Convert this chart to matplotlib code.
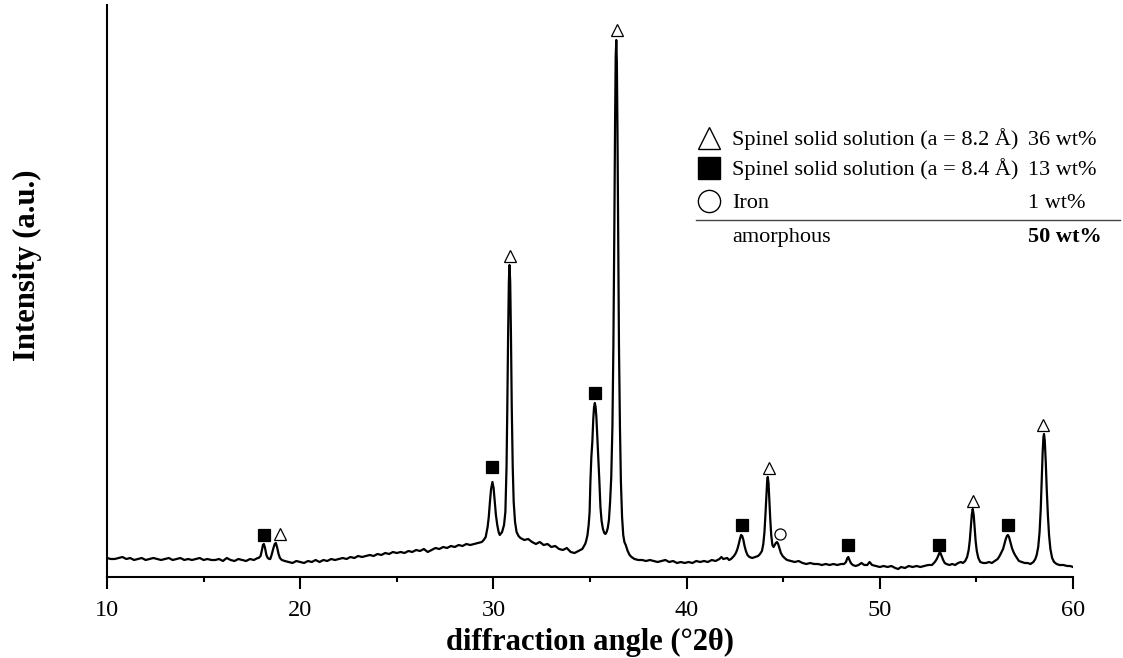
import matplotlib
matplotlib.use("Agg")
import matplotlib.pyplot as plt

# XRD pattern (deg 2theta, intensity in a.u.)
two_theta = [
    10.0, 10.2, 10.4, 10.6, 10.8, 11.0, 11.2, 11.4, 11.6, 11.8,
    12.0, 12.2, 12.4, 12.6, 12.8, 13.0, 13.2, 13.4, 13.6, 13.8,
    14.0, 14.2, 14.4, 14.6, 14.8, 15.0, 15.2, 15.4, 15.6, 15.8,
    16.0, 16.2, 16.4, 16.6, 16.8, 17.0, 17.2, 17.4, 17.6, 17.8,
    17.85, 17.95, 18.02, 18.07, 18.12, 18.18, 18.25, 18.32, 18.4, 18.45,
    18.52, 18.6, 18.68, 18.74, 18.8, 18.88, 18.95, 19.05,
    19.2, 19.4, 19.6, 19.8, 20.0, 20.2, 20.4, 20.6, 20.8, 21.0,
    21.2, 21.4, 21.6, 21.8, 22.0, 22.2, 22.4, 22.6, 22.8, 23.0,
    23.2, 23.4, 23.6, 23.8, 24.0, 24.2, 24.4, 24.6, 24.8, 25.0,
    25.2, 25.4, 25.6, 25.8, 26.0, 26.2, 26.4, 26.6, 26.8, 27.0,
    27.2, 27.4, 27.6, 27.8, 28.0, 28.2, 28.4, 28.6, 28.8, 29.0,
    29.2, 29.4, 29.5, 29.6,
    29.7, 29.76, 29.82, 29.88, 29.95, 30.01, 30.07, 30.13, 30.2, 30.27,
    30.33, 30.45, 30.55, 30.62,
    30.68, 30.72, 30.76, 30.8, 30.83, 30.87, 30.91, 30.95, 31.0, 31.05,
    31.12, 31.2, 31.3, 31.4,
    31.6, 31.8, 32.0, 32.2, 32.4, 32.6, 32.8, 33.0, 33.2, 33.4,
    33.6, 33.8, 34.0, 34.2, 34.4, 34.6, 34.75,
    34.8, 34.87, 34.93, 34.98, 35.02, 35.07, 35.12, 35.17, 35.21, 35.25,
    35.29, 35.33, 35.38, 35.43, 35.48, 35.54, 35.6, 35.67, 35.74, 35.8,
    35.86, 35.92, 35.98,
    36.04, 36.1, 36.16, 36.21, 36.26, 36.3, 36.33, 36.36, 36.39, 36.42,
    36.46, 36.5, 36.55, 36.6, 36.66, 36.72, 36.78, 36.85, 36.95, 37.05,
    37.15, 37.3,
    37.5, 37.7, 37.9, 38.1, 38.3, 38.5, 38.7, 38.9, 39.1, 39.3,
    39.5, 39.7, 39.9, 40.1, 40.3, 40.5, 40.7, 40.9, 41.1, 41.3,
    41.5, 41.7, 41.8, 41.9, 42.1, 42.2, 42.3, 42.45,
    42.55, 42.63, 42.7, 42.76, 42.82, 42.88, 42.94, 43.0, 43.07, 43.15,
    43.25, 43.4, 43.55, 43.7, 43.8,
    43.9, 43.97, 44.03, 44.08, 44.13, 44.17, 44.2, 44.24, 44.28, 44.33,
    44.38, 44.44, 44.5, 44.56, 44.62, 44.68, 44.74, 44.8, 44.88, 44.97,
    45.07, 45.2,
    45.4, 45.6, 45.8, 46.0, 46.2, 46.4, 46.6, 46.8, 47.0, 47.2,
    47.4, 47.6, 47.8, 48.0, 48.15,
    48.25, 48.32, 48.37, 48.43, 48.5, 48.6, 48.75, 48.9, 49.05, 49.2,
    49.35, 49.47, 49.6, 49.8, 50.0, 50.2, 50.4, 50.6, 50.8, 50.95,
    51.1, 51.3, 51.5, 51.7, 51.9, 52.1, 52.3, 52.5, 52.7, 52.85,
    52.95, 53.02, 53.08, 53.14, 53.2, 53.28, 53.36, 53.45, 53.6, 53.75,
    53.9, 54.05, 54.2, 54.3, 54.42,
    54.52, 54.6, 54.66, 54.71, 54.76, 54.81, 54.86, 54.91, 54.96, 55.02,
    55.1, 55.2, 55.35, 55.5, 55.65, 55.8, 55.95, 56.1,
    56.2, 56.3, 56.38, 56.45, 56.52, 56.58, 56.63, 56.69, 56.76, 56.84,
    56.92, 57.0, 57.1, 57.2, 57.35, 57.5, 57.65, 57.8, 57.95, 58.05,
    58.12, 58.2, 58.27, 58.33, 58.38, 58.43, 58.47, 58.5, 58.54, 58.59,
    58.64, 58.7, 58.76, 58.83, 58.92, 59.02, 59.15, 59.3, 59.5, 59.7,
    59.85, 60.0,
]
intensity = [
    19, 18, 18, 19, 20, 18, 19, 17, 18, 19,
    17, 18, 19, 18, 17, 18, 19, 17, 18, 19,
    17, 18, 17, 18, 19, 17, 18, 17, 17, 18,
    16, 19, 17, 16, 18, 17, 16, 18, 17, 19,
    19, 21, 27, 32, 33, 29, 22, 19, 18, 18,
    22, 28, 33, 34, 30, 23, 19, 17,
    16, 15, 14, 16, 15, 14, 16, 15, 17, 15,
    17, 16, 18, 17, 18, 19, 18, 20, 19, 21,
    20, 21, 22, 21, 23, 22, 24, 23, 25, 24,
    25, 24, 26, 25, 27, 26, 28, 25, 27, 29,
    28, 30, 29, 31, 30, 32, 31, 33, 32, 33,
    34, 35, 37, 40,
    50, 60, 75, 88, 95, 89, 76, 62, 52, 45,
    42, 45, 52, 65,
    110, 170, 240, 295, 312, 295, 240, 170, 110, 75,
    55, 45, 41, 39,
    37, 38, 35, 33, 35, 32, 33, 30, 31, 28,
    27, 29, 25, 24, 26, 28, 33,
    36, 42, 52, 65, 95, 120, 135, 158, 170, 174,
    170, 160, 140, 120, 98, 70, 56, 48, 44, 43,
    45, 49, 57,
    75, 100, 150, 230, 350, 460, 520, 537, 515, 450,
    340, 230, 150, 95, 60, 42, 35, 32, 26, 22,
    20, 18,
    17, 17, 16, 17, 16, 15, 16, 17, 15, 16,
    14, 15, 14, 15, 14, 16, 15, 16, 15, 17,
    16, 18, 20, 18, 19, 17, 18, 21,
    24, 28, 33, 38, 42, 41, 37, 31, 26, 22,
    20, 19, 20, 21, 23,
    26, 33, 45, 62, 82, 96, 100, 94, 78, 58,
    42, 32, 30, 32, 34, 35, 33, 29, 24, 21,
    19, 17,
    16, 15, 16, 14, 13, 14, 13, 13, 12, 13,
    12, 13, 12, 13, 13,
    15, 19, 20, 17, 14, 12, 11, 12, 14, 12,
    12, 15, 12, 11, 10, 11, 10, 11, 9, 8,
    10, 9, 11, 10, 11, 10, 11, 12, 12, 15,
    18, 21, 24, 24, 21, 17, 14, 13, 12, 13,
    12, 14, 15, 14, 16,
    20, 27, 37, 50, 62, 68, 62, 49, 36, 26,
    19, 15, 14, 14, 15, 14, 16, 18,
    21, 25, 28, 33, 38, 41, 42, 40, 35, 29,
    25, 22, 19, 16, 15, 14, 14, 13, 15, 18,
    22, 30, 45, 68, 95, 125, 140, 143, 136, 115,
    88, 62, 42, 28, 19, 15, 13, 12, 12, 11,
    11, 10,
]

# reflection markers above the peaks
tri_x = [18.98, 30.87, 36.38, 44.28, 54.81, 58.46]
tri_y = [43, 321, 547, 109, 76, 152]
sq_x = [18.13, 29.91, 35.27, 42.86, 48.35, 53.09, 56.62]
sq_y = [42, 110, 184, 52, 32, 32, 52]
circ_x = [44.83]
circ_y = [43]

phases = ["Spinel solid solution (a = 8.2 Å)",
          "Spinel solid solution (a = 8.4 Å)",
          "Iron"]
amounts = ["36 wt%", "13 wt%", "1 wt%"]
amorphous_amount = "50 wt%"

plt.rcParams['font.family'] = ['Liberation Serif', 'DejaVu Serif']
plt.rcParams['mathtext.fontset'] = 'stix'

W, H = 1123, 658
fig = plt.figure(figsize=(W / 100, H / 100), dpi=100)
ax = fig.add_axes([107 / W, 1 - 577 / H, (1073 - 107) / W, (577 - 5) / H])

ax.plot(two_theta, intensity, color='black', lw=1.6, zorder=2)

mk = dict(ls='none', ms=8, mec='black', mew=0.9, zorder=3)
ax.plot(tri_x, tri_y, marker='^', mfc='white', **mk)
ax.plot(sq_x, sq_y, marker='s', mfc='black', **mk)
ax.plot(circ_x, circ_y, marker='o', mfc='white', **mk)

ax.set_xlim(10, 60)
ax.set_ylim(0, 572)
ax.set_xticks([10, 20, 30, 40, 50, 60])
ax.set_xticks([15, 25, 35, 45, 55], minor=True)
ax.set_yticks([])
for s in ['top', 'right']:
    ax.spines[s].set_visible(False)
for s in ['left', 'bottom']:
    ax.spines[s].set_linewidth(1.5)
ax.tick_params(axis='x', which='major', direction='out', length=8.5,
               width=1.5, labelsize=17.5, pad=8)
ax.tick_params(axis='x', which='minor', direction='out', length=3.6,
               width=1.5)

fig.text(590 / W, 1 - 650 / H, "diffraction angle (°2θ)", ha='center',
         va='baseline', fontsize=22, fontweight='bold')
fig.text(27 / W, 1 - 265 / H, "Intensity (a.u.)", ha='center',
         va='center', rotation=90, fontsize=22, fontweight='bold')

# hand-made legend table (figure pixel positions)
def fx(px):
    return px / W


def fy(py):
    return 1 - py / H


leg_markers = [('^', 'white'), ('s', 'black'), ('o', 'white')]
marker_y = [138, 168, 201]
text_y = [145, 175, 208]
for (m, fc), my, ty, name, amt in zip(leg_markers, marker_y, text_y,
                                      phases, amounts):
    ax.plot([fx(709)], [fy(my)], marker=m, ms=16, mfc=fc, mec='black',
            mew=1.0, transform=fig.transFigure, clip_on=False)
    fig.text(fx(732), fy(ty), name, fontsize=16, va='baseline')
    fig.text(fx(1028), fy(ty), amt, fontsize=16, va='baseline')

ax.plot([fx(696), fx(1120)], [fy(220), fy(220)], color='#444444', lw=1.0,
        transform=fig.transFigure, clip_on=False)
fig.text(fx(732), fy(242), "amorphous", fontsize=16, va='baseline')
fig.text(fx(1028), fy(242), amorphous_amount, fontsize=16, va='baseline',
         fontweight='bold')

fig.savefig("out.png", dpi=100)
